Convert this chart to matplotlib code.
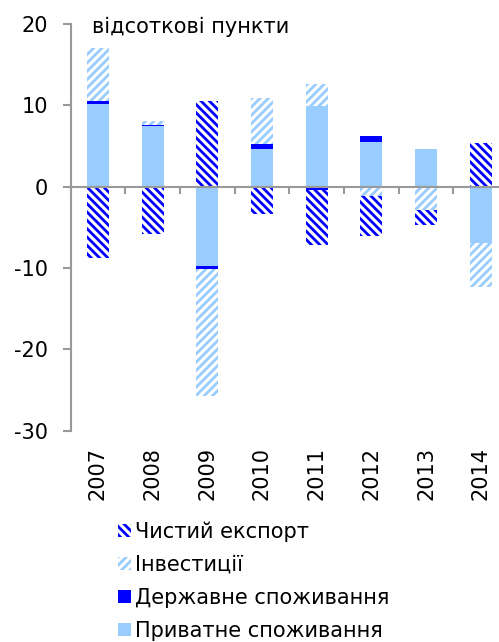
import matplotlib
import matplotlib.pyplot as plt
import numpy as np
from matplotlib.patches import Patch

matplotlib.use('Agg')
plt.rcParams['font.family'] = ['DejaVu Sans']
plt.rcParams['axes.unicode_minus'] = False
plt.rcParams['hatch.linewidth'] = 2.0

years = ['2007', '2008', '2009', '2010', '2011', '2012', '2013', '2014']
private = np.array([10.2, 7.5, -9.8, 4.6, 9.9, 5.5, 4.7, -6.9])
government = np.array([0.4, 0.15, -0.3, 0.7, -0.4, 0.8, 0.0, 0.0])
investment = np.array([6.4, 0.45, -15.6, 5.6, 2.7, -1.1, -2.9, -5.4])
net_export = np.array([-8.7, -5.8, 10.5, -3.4, -6.7, -5.0, -1.8, 5.4])

light = '#99CCFF'
dark = '#0000FF'
grey = '#999999'
h_inv = '////'
h_net = '\\\\\\\\'

fig = plt.figure(figsize=(4.99, 6.42), dpi=100)
ax = fig.add_axes([0.1413, 0.329, 0.877, 0.6335])

x = np.arange(len(years))
w = 0.4
pos = np.zeros(len(years))
neg = np.zeros(len(years))
series = [
    (private, dict(color=light)),
    (government, dict(color=dark)),
    (investment, dict(facecolor='white', edgecolor=light, hatch=h_inv, linewidth=0)),
    (net_export, dict(facecolor='white', edgecolor=dark, hatch=h_net, linewidth=0)),
]
for vals, style in series:
    base = np.where(vals >= 0, pos, neg)
    ax.bar(x, vals, w, bottom=base, **style)
    pos = pos + np.where(vals >= 0, vals, 0)
    neg = neg + np.where(vals < 0, vals, 0)

ax.set_xlim(-0.5, 7.5)
ax.set_ylim(-30, 20)
ax.set_yticks([-30, -20, -10, 0, 10, 20])
ax.tick_params(axis='y', colors=grey, labelcolor='black', labelsize=15,
               length=6, width=1.5, pad=10)
ax.spines['left'].set_color(grey)
ax.spines['left'].set_linewidth(1.5)
for s in ['top', 'right']:
    ax.spines[s].set_visible(False)
ax.spines['bottom'].set_position(('data', 0))
ax.spines['bottom'].set_color(grey)
ax.spines['bottom'].set_linewidth(1.5)
ax.set_xticks(np.arange(-0.5, 7.5, 1.0))
ax.set_xticklabels([])
ax.tick_params(axis='x', colors=grey, length=5, width=1.5, direction='out')

for i, yr in enumerate(years):
    ax.text(i, -32.0, yr, rotation=90, ha='center', va='top', fontsize=15)

ax.text(0.05, 0.993, 'відсоткові пункти', transform=ax.transAxes, fontsize=15,
        ha='left', va='center')

handles = [
    Patch(facecolor='white', edgecolor=dark, hatch=h_net, linewidth=0, label='Чистий експорт'),
    Patch(facecolor='white', edgecolor=light, hatch=h_inv, linewidth=0, label='Інвестиції'),
    Patch(facecolor=dark, label='Державне споживання'),
    Patch(facecolor=light, label='Приватне споживання'),
]
fig.legend(handles=handles, loc='upper left', bbox_to_anchor=(0.2365, 0.1877),
           frameon=False, fontsize=15, handlelength=0.63, handleheight=0.6,
           handletextpad=0.2, labelspacing=0.62, borderpad=0, borderaxespad=0)

fig.savefig('out.png', dpi=100)
